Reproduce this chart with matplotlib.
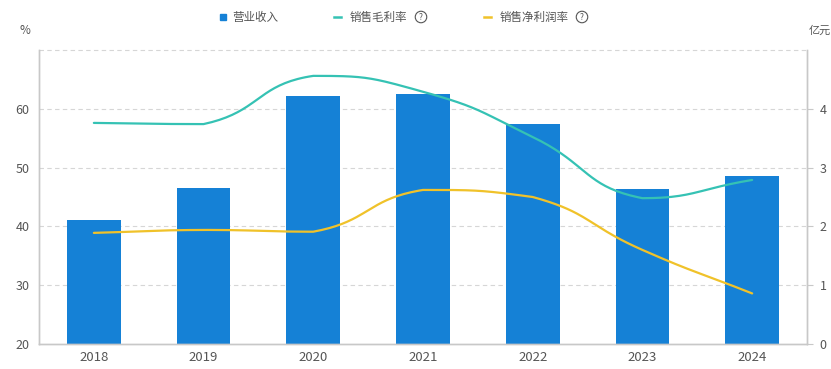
"""Revenue bars with gross / net margin curves, dual axis."""

import numpy as np
import matplotlib
matplotlib.use("Agg")
import matplotlib.pyplot as plt

years = ["2018", "2019", "2020", "2021", "2022", "2023", "2024"]
revenue = [2.11, 2.65, 4.22, 4.25, 3.74, 2.64, 2.85]          # 亿元
gross_margin = [57.6, 57.4, 65.6, 62.9, 55.2, 44.8, 47.9]     # %
net_margin = [38.9, 39.4, 39.1, 46.2, 45.0, 36.0, 28.6]       # %

BAR_COLOR = "#1581D6"
GROSS_COLOR = "#35C2B4"
NET_COLOR = "#F0C22A"
GRID_COLOR = "#D6D6D6"
AXIS_COLOR = "#C8C8C8"
TEXT_COLOR = "#555555"

plt.rcParams["font.family"] = ["Noto Sans CJK SC", "DejaVu Sans"]


def smooth_curve(x, y, sx, sy, smooth=0.5, n=40):
    """Echarts-like smooth bezier through points (computed in pixel-ish space)."""
    px = np.asarray(x, float) * sx
    py = np.asarray(y, float) * sy
    m = len(px)
    cp_in, cp_out = [], []
    for i in range(m):
        prev = (px[i - 1], py[i - 1]) if i > 0 else (px[i], py[i])
        nxt = (px[i + 1], py[i + 1]) if i < m - 1 else (px[i], py[i])
        vx, vy = (nxt[0] - prev[0]) * smooth, (nxt[1] - prev[1]) * smooth
        lp = np.hypot(px[i] - prev[0], py[i] - prev[1])
        ln = np.hypot(nxt[0] - px[i], nxt[1] - py[i])
        r = ln / (ln + lp) if (ln + lp) > 0 else 0.5
        ix, iy = px[i] - vx * (1 - r), py[i] - vy * (1 - r)
        ox, oy = px[i] + vx * r, py[i] + vy * r
        # constrain control points between neighbours
        iy = np.clip(iy, min(prev[1], py[i]), max(prev[1], py[i]))
        oy = np.clip(oy, min(nxt[1], py[i]), max(nxt[1], py[i]))
        cp_in.append((ix, iy))
        cp_out.append((ox, oy))
    t = np.linspace(0, 1, n)[:, None]
    pts = []
    for i in range(m - 1):
        p0 = np.array([px[i], py[i]])
        p1 = np.array(cp_out[i])
        p2 = np.array(cp_in[i + 1])
        p3 = np.array([px[i + 1], py[i + 1]])
        seg = ((1 - t) ** 3) * p0 + 3 * ((1 - t) ** 2) * t * p1 + 3 * (1 - t) * t ** 2 * p2 + t ** 3 * p3
        pts.append(seg if i == 0 else seg[1:])
    pts = np.vstack(pts)
    return pts[:, 0] / sx, pts[:, 1] / sy


fig = plt.figure(figsize=(8.31, 3.69), dpi=100)
ax_bar = fig.add_axes([39 / 831, 25 / 369, 768 / 831, 294 / 369])
ax = ax_bar.twinx()
ax.set_zorder(ax_bar.get_zorder() + 1)
ax.patch.set_visible(False)

xs = np.arange(len(years))

# grid (behind bars)
for g in [1, 2, 3, 4]:
    ax_bar.axhline(g, color=GRID_COLOR, lw=0.8, ls=(0, (4, 3)), zorder=0)
ax_bar.axhline(5, color=GRID_COLOR, lw=0.8, ls=(0, (4, 3)), zorder=0, clip_on=False)

ax_bar.bar(xs, revenue, width=0.49, color=BAR_COLOR, zorder=2)
ax_bar.set_xlim(-0.5, len(years) - 0.5)
ax_bar.set_ylim(0, 5)

gx, gy = smooth_curve(xs, gross_margin, 110, 5.88)
nx, ny = smooth_curve(xs, net_margin, 110, 5.88)
ax.plot(gx, gy, color=GROSS_COLOR, lw=1.6, solid_capstyle="round")
ax.plot(nx, ny, color=NET_COLOR, lw=1.6, solid_capstyle="round")
ax.set_ylim(20, 70)

# left axis: percentage, right axis: revenue
ax.yaxis.tick_left()
ax_bar.yaxis.tick_right()
ax.set_yticks([20, 30, 40, 50, 60])
ax_bar.set_yticks([0, 1, 2, 3, 4])
ax.tick_params(axis="y", length=0, labelsize=9, labelcolor=TEXT_COLOR, pad=7)
ax_bar.tick_params(axis="y", length=4, color=AXIS_COLOR, labelsize=9, labelcolor=TEXT_COLOR, pad=5)
ax_bar.set_xticks(xs)
ax_bar.set_xticklabels(years)
ax_bar.tick_params(axis="x", length=0, labelsize=9.5, labelcolor=TEXT_COLOR, pad=5)

for a in (ax, ax_bar):
    a.spines["top"].set_visible(False)
    for side in ("left", "right", "bottom"):
        a.spines[side].set_color(AXIS_COLOR)
        a.spines[side].set_linewidth(1.0)

fig.text(20 / 831, 1 - 31 / 369, "%", fontsize=8.5, color=TEXT_COLOR, va="center", ha="left")
fig.text(809 / 831, 1 - 31 / 369, "亿元", fontsize=8, color=TEXT_COLOR, va="center", ha="left")

# legend
ly = 1 - 17 / 369
fig.patches.append(plt.Rectangle((220 / 831, ly - 3 / 369), 6 / 831, 6 / 369, color=BAR_COLOR,
                                 transform=fig.transFigure, figure=fig))
fig.text(232 / 831, ly, "营业收入", fontsize=8.3, color=TEXT_COLOR, va="center", ha="left")

fig.lines.append(plt.Line2D([334 / 831, 341 / 831], [ly, ly], color=GROSS_COLOR, lw=1.8,
                            transform=fig.transFigure, figure=fig))
fig.text(350 / 831, ly, "销售毛利率", fontsize=8.3, color=TEXT_COLOR, va="center", ha="left")
fig.text(421 / 831, ly, "?", fontsize=6, color=TEXT_COLOR, va="center", ha="center",
         bbox=dict(boxstyle="circle,pad=0.15", fc="white", ec=TEXT_COLOR, lw=0.8))

fig.lines.append(plt.Line2D([484 / 831, 491 / 831], [ly, ly], color=NET_COLOR, lw=1.8,
                            transform=fig.transFigure, figure=fig))
fig.text(500 / 831, ly, "销售净利润率", fontsize=8.3, color=TEXT_COLOR, va="center", ha="left")
fig.text(582 / 831, ly, "?", fontsize=6, color=TEXT_COLOR, va="center", ha="center",
         bbox=dict(boxstyle="circle,pad=0.15", fc="white", ec=TEXT_COLOR, lw=0.8))

fig.savefig("out.png", dpi=100)
